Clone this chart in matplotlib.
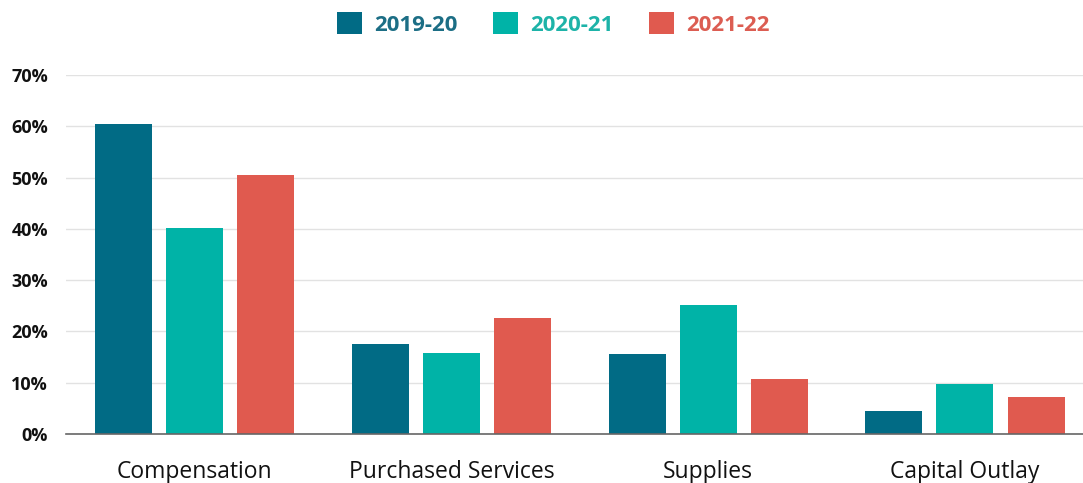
import matplotlib
matplotlib.use("Agg")
import matplotlib.pyplot as plt
from matplotlib.patches import Patch
import numpy as np

categories = ["Compensation", "Purchased Services", "Supplies", "Capital Outlay"]
series_names = ["2019-20", "2020-21", "2021-22"]
v_2019_20 = [60.4, 17.6, 15.6, 4.5]
v_2020_21 = [40.2, 15.8, 25.1, 9.8]
v_2021_22 = [50.5, 22.7, 10.7, 7.3]
yticks = [0, 10, 20, 30, 40, 50, 60, 70]
ytick_labels = ["0%", "10%", "20%", "30%", "40%", "50%", "60%", "70%"]

colors = ["#016B85", "#00B3A7", "#E05A4F"]
text_colors = ["#1C6E85", "#1DB3A8", "#DC5D52"]

plt.rcParams['font.family'] = ['Open Sans', 'DejaVu Sans']

fig = plt.figure(figsize=(10.83, 4.83), dpi=100)
ax = fig.add_axes([66/1083, 1-434/483, 1-66/1083, (434-75)/483])

x = np.arange(len(categories))
width = 0.222
offset = 0.277
for i, vals in enumerate([v_2019_20, v_2020_21, v_2021_22]):
    ax.bar(x + (i-1)*offset, vals, width, color=colors[i], zorder=3)

ax.set_ylim(0, 70)
ax.set_xlim(-0.501, 3.46)
ax.set_yticks(yticks)
ax.set_yticklabels(ytick_labels, fontsize=13, fontweight='bold', color='#111111')
ax.set_xticks(x)
ax.set_xticklabels(categories, fontsize=16.5, color='#111111')
ax.tick_params(axis='y', length=0, pad=13)
ax.tick_params(axis='x', length=0, pad=19)
ax.grid(axis='y', color='#e2e2e2', linewidth=1, zorder=0)
for s in ['top', 'right', 'left']:
    ax.spines[s].set_visible(False)
ax.spines['bottom'].set_color('#666666')
ax.spines['bottom'].set_linewidth(1.2)
ax.spines['bottom'].set_zorder(4)

handles = [Patch(facecolor=c, edgecolor='none') for c in colors]
leg = fig.legend(handles, series_names, loc='center', bbox_to_anchor=(0.511, 1-24/483),
                 ncol=3, frameon=False, handlelength=1.12, handleheight=1.12,
                 handletextpad=0.55, columnspacing=1.6,
                 prop={'family': 'Open Sans', 'weight': 'bold', 'size': 16})
for t, c in zip(leg.get_texts(), text_colors):
    t.set_color(c)

fig.savefig("out.png", dpi=100)
